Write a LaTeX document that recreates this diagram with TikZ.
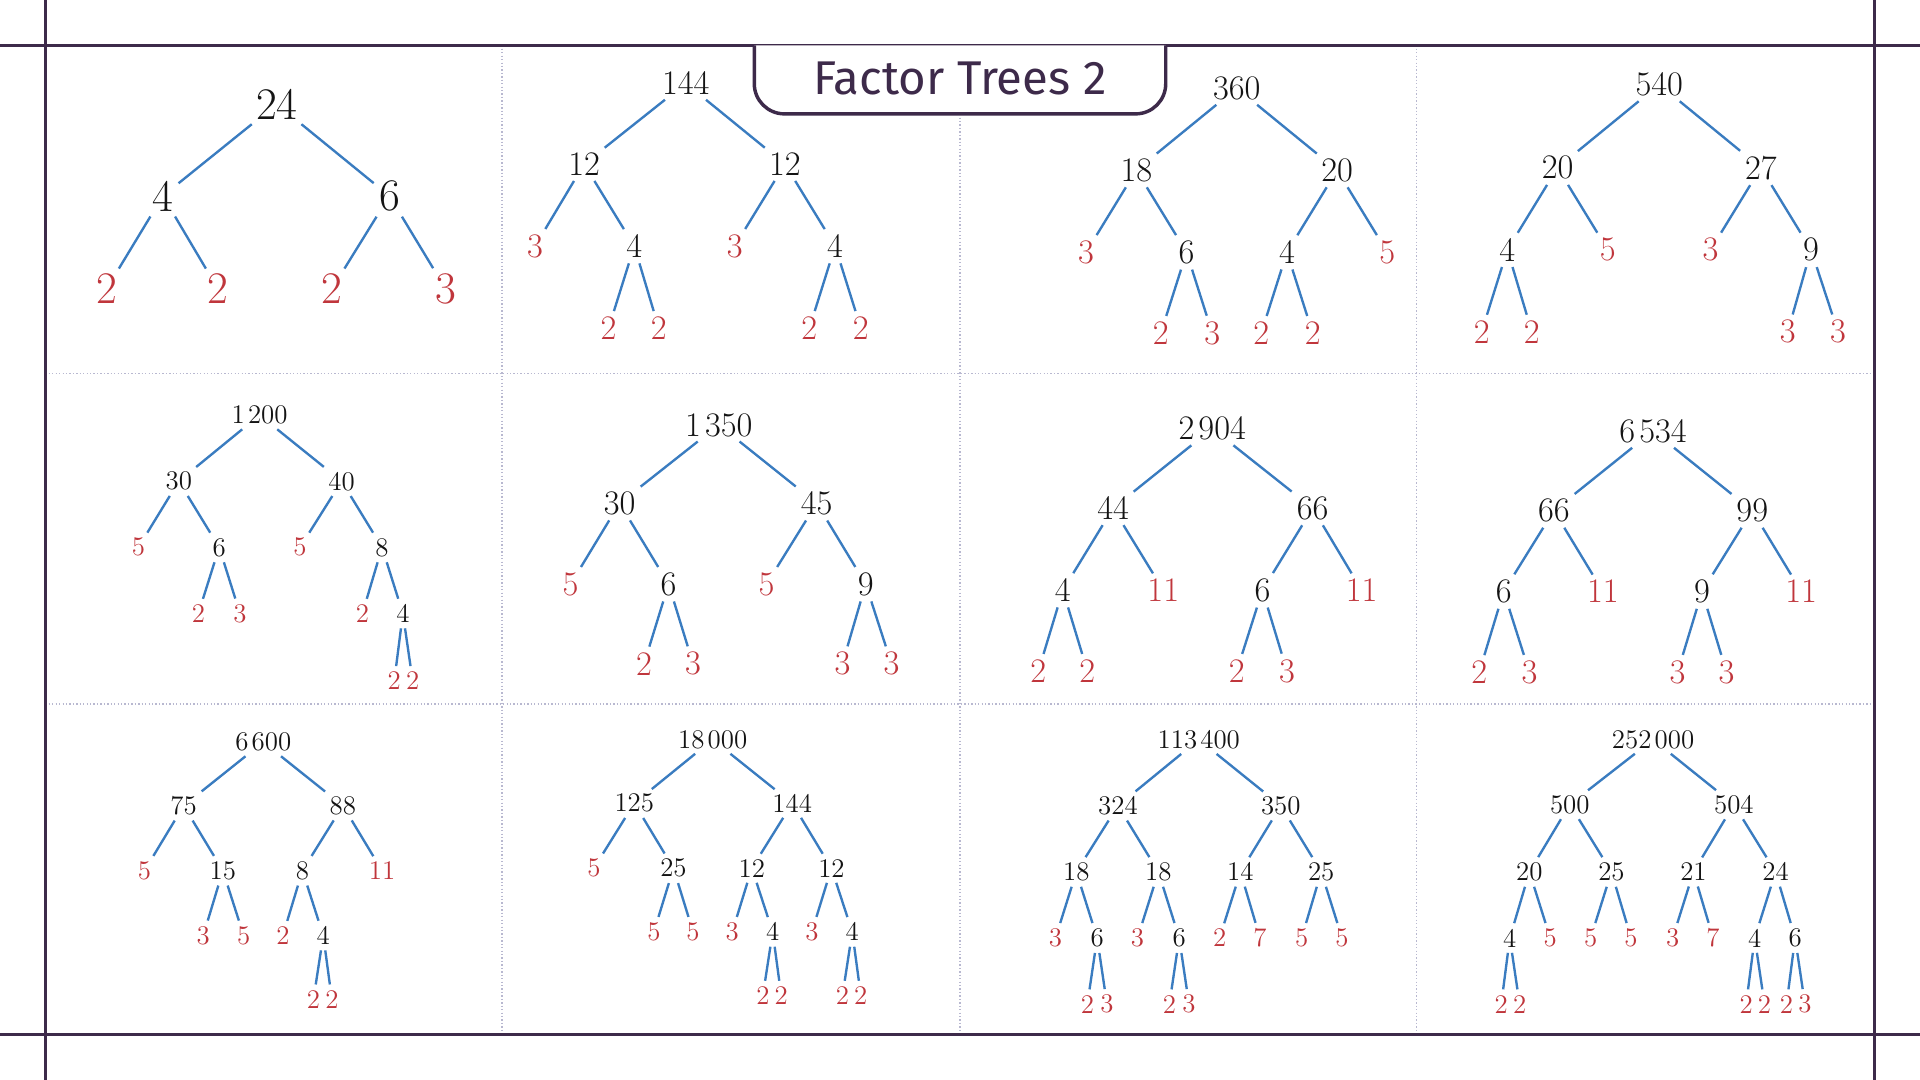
\documentclass[tikz,border=0pt]{standalone}
\usepackage{fontspec}
\newfontfamily\titlefont{Fira Sans}
\definecolor{frame}{HTML}{3D2A4A}
\definecolor{edgeb}{HTML}{3A7CC0}
\definecolor{redn}{HTML}{C0363C}
\definecolor{gridc}{HTML}{B8B8D0}
\newcommand\TN[4]{\node[tn] (#1) at (#2,#3) {#4};}
\newcommand\TR[4]{\node[tn,text=redn] (#1) at (#2,#3) {#4};}
\newcommand\ts{\kern0.12em}
\tikzset{tn/.style={inner sep=1.5pt,text=black!92},
 edg/.style={draw=edgeb,line width=1.1pt,shorten <=1pt,shorten >=1pt}}
\begin{document}
\begin{tikzpicture}[x=0.02cm,y=-0.02cm]
\useasboundingbox (0,0) rectangle (1568,882);
\fill[white] (0,0) rectangle (1568,882);
% grid
\foreach \x in {410,784,1157} \draw[gridc,densely dotted,line width=0.6pt] (\x,37) -- (\x,845);
\foreach \y in {305,575} \draw[gridc,densely dotted,line width=0.6pt] (37,\y) -- (1531,\y);
% frame
\draw[frame,line width=1.6pt] (0,37) -- (1568,37) (0,845) -- (1568,845) (37,0) -- (37,882) (1531,0) -- (1531,882);
\draw[frame,line width=1.6pt,fill=white,rounded corners=14pt] (616,37) -- (616,93) -- (952,93) -- (952,37);
\node[text=frame,font=\titlefont\fontsize{22}{24}\selectfont] (title) at (784,64) {Factor Trees 2};
% ===== Tree A
\begin{scope}[font=\fontsize{21}{22}\selectfont]
\TN{a}{226}{85}{24}\TN{a1}{133}{160}{4}\TN{a2}{318}{160}{6}
\TR{a11}{87}{236}{2}\TR{a12}{178}{236}{2}\TR{a21}{271}{236}{2}\TR{a22}{364}{236}{3}
\end{scope}
\foreach \p/\c in {a/a1,a/a2,a1/a11,a1/a12,a2/a21,a2/a22} \draw[edg] (\p) -- (\c);
% ===== B, C, D, F, G, H
\begin{scope}[font=\fontsize{16}{18}\selectfont]
\TN{b}{560}{68}{144}\TN{b1}{477}{134}{12}\TN{b2}{641}{134}{12}
\TR{b11}{437}{201}{3}\TN{b12}{518}{201}{4}\TR{b21}{600}{201}{3}\TN{b22}{682}{201}{4}
\TR{b121}{497}{268}{2}\TR{b122}{538}{268}{2}\TR{b221}{661}{268}{2}\TR{b222}{703}{268}{2}
\TN{c}{1010}{72}{360}\TN{c1}{928}{139}{18}\TN{c2}{1092}{139}{20}
\TR{c11}{887}{206}{3}\TN{c12}{969}{206}{6}\TN{c21}{1051}{206}{4}\TR{c22}{1133}{206}{5}
\TR{c121}{948}{272}{2}\TR{c122}{990}{272}{3}\TR{c211}{1030}{272}{2}\TR{c212}{1072}{272}{2}
\TN{d}{1355}{69}{540}\TN{d1}{1272}{137}{20}\TN{d2}{1438}{137}{27}
\TN{d11}{1231}{204}{4}\TR{d12}{1313}{204}{5}\TR{d21}{1397}{204}{3}\TN{d22}{1479}{204}{9}
\TR{d111}{1210}{271}{2}\TR{d112}{1251}{271}{2}\TR{d221}{1460}{271}{3}\TR{d222}{1501}{271}{3}
\TN{f}{587}{347}{1\ts350}\TN{f1}{506}{411}{30}\TN{f2}{667}{411}{45}
\TR{f11}{466}{477}{5}\TN{f12}{546}{477}{6}\TR{f21}{626}{477}{5}\TN{f22}{707}{477}{9}
\TR{f121}{526}{542}{2}\TR{f122}{566}{542}{3}\TR{f221}{688}{542}{3}\TR{f222}{728}{542}{3}
\TN{g}{990}{350}{2\ts904}\TN{g1}{909}{415}{44}\TN{g2}{1072}{415}{66}
\TN{g11}{868}{482}{4}\TR{g12}{950}{482}{11}\TN{g21}{1031}{482}{6}\TR{g22}{1112}{482}{11}
\TR{g111}{848}{548}{2}\TR{g112}{888}{548}{2}\TR{g211}{1010}{548}{2}\TR{g212}{1051}{548}{3}
\TN{h}{1350}{352}{6\ts534}\TN{h1}{1269}{417}{66}\TN{h2}{1431}{417}{99}
\TN{h11}{1228}{483}{6}\TR{h12}{1309}{483}{11}\TN{h21}{1390}{483}{9}\TR{h22}{1471}{483}{11}
\TR{h111}{1208}{549}{2}\TR{h112}{1249}{549}{3}\TR{h211}{1370}{549}{3}\TR{h212}{1410}{549}{3}
\end{scope}
\foreach \t in {b,c,d,f,g,h}
 \foreach \p/\c in {/1,/2,1/11,1/12,2/21,2/22} \draw[edg] (\t\p) -- (\t\c);
\foreach \p/\c in {b12/b121,b12/b122,b22/b221,b22/b222,c12/c121,c12/c122,c21/c211,c21/c212,
 d11/d111,d11/d112,d22/d221,d22/d222,f12/f121,f12/f122,f22/f221,f22/f222,
 g11/g111,g11/g112,g21/g211,g21/g212,h11/h111,h11/h112,h21/h211,h21/h212}
 \draw[edg] (\p) -- (\c);
% ===== small trees
\begin{scope}[font=\fontsize{12.5}{14}\selectfont]
\TN{e}{212}{339}{1\ts200}\TN{e1}{146}{393}{30}\TN{e2}{279}{393}{40}
\TR{e11}{113}{447}{5}\TN{e12}{179}{447}{6}\TR{e21}{245}{447}{5}\TN{e22}{312}{447}{8}
\TR{e121}{162}{501}{2}\TR{e122}{196}{501}{3}\TR{e221}{296}{501}{2}\TN{e222}{329}{501}{4}
\TR{e2221}{322}{556}{2}\TR{e2222}{337}{556}{2}
\TN{i}{215}{606}{6\ts600}\TN{i1}{150}{658}{75}\TN{i2}{280}{658}{88}
\TR{i11}{118}{711}{5}\TN{i12}{182}{711}{15}\TN{i21}{247}{711}{8}\TR{i22}{312}{711}{11}
\TR{i121}{166}{764}{3}\TR{i122}{199}{764}{5}\TR{i211}{231}{764}{2}\TN{i212}{264}{764}{4}
\TR{i2121}{256}{816}{2}\TR{i2122}{271}{816}{2}
\TN{j}{582}{604}{18\ts000}\TN{j1}{518}{656}{125}\TN{j2}{647}{656}{144}
\TR{j11}{485}{709}{5}\TN{j12}{550}{709}{25}\TN{j21}{614}{709}{12}\TN{j22}{679}{709}{12}
\TR{j121}{534}{761}{5}\TR{j122}{566}{761}{5}\TR{j211}{598}{761}{3}\TN{j212}{631}{761}{4}
\TR{j221}{663}{761}{3}\TN{j222}{696}{761}{4}
\TR{j2121}{623}{813}{2}\TR{j2122}{638}{813}{2}\TR{j2221}{688}{813}{2}\TR{j2222}{703}{813}{2}
\TN{k}{979}{604}{113\ts400}\TN{k1}{913}{658}{324}\TN{k2}{1046}{658}{350}
\TN{k11}{879}{712}{18}\TN{k12}{946}{712}{18}\TN{k21}{1013}{712}{14}\TN{k22}{1079}{712}{25}
\TR{k111}{862}{766}{3}\TN{k112}{896}{766}{6}\TR{k121}{929}{766}{3}\TN{k122}{963}{766}{6}
\TR{k211}{996}{766}{2}\TR{k212}{1029}{766}{7}\TR{k221}{1063}{766}{5}\TR{k222}{1096}{766}{5}
\TR{k1121}{888}{820}{2}\TR{k1122}{904}{820}{3}\TR{k1221}{955}{820}{2}\TR{k1222}{971}{820}{3}
\TN{l}{1350}{604}{252\ts000}\TN{l1}{1282}{657}{500}\TN{l2}{1416}{657}{504}
\TN{l11}{1249}{712}{20}\TN{l12}{1316}{712}{25}\TN{l21}{1383}{712}{21}\TN{l22}{1450}{712}{24}
\TN{l111}{1233}{766}{4}\TR{l112}{1266}{766}{5}\TR{l121}{1299}{766}{5}\TR{l122}{1332}{766}{5}
\TR{l211}{1366}{766}{3}\TR{l212}{1399}{766}{7}\TN{l221}{1433}{766}{4}\TN{l222}{1466}{766}{6}
\TR{l1111}{1226}{820}{2}\TR{l1112}{1241}{820}{2}\TR{l2211}{1426}{820}{2}\TR{l2212}{1441}{820}{2}
\TR{l2221}{1459}{820}{2}\TR{l2222}{1474}{820}{3}
\end{scope}
\foreach \t in {e,i,j,k,l}
 \foreach \p/\c in {/1,/2,1/11,1/12,2/21,2/22} \draw[edg] (\t\p) -- (\t\c);
\foreach \p/\c in {e12/e121,e12/e122,e22/e221,e22/e222,e222/e2221,e222/e2222,
 i12/i121,i12/i122,i21/i211,i21/i212,i212/i2121,i212/i2122,
 j12/j121,j12/j122,j21/j211,j21/j212,j22/j221,j22/j222,j212/j2121,j212/j2122,j222/j2221,j222/j2222,
 k11/k111,k11/k112,k12/k121,k12/k122,k21/k211,k21/k212,k22/k221,k22/k222,
 k112/k1121,k112/k1122,k122/k1221,k122/k1222,
 l11/l111,l11/l112,l12/l121,l12/l122,l21/l211,l21/l212,l22/l221,l22/l222,
 l111/l1111,l111/l1112,l221/l2211,l221/l2212,l222/l2221,l222/l2222}
 \draw[edg] (\p) -- (\c);
\end{tikzpicture}
\end{document}
